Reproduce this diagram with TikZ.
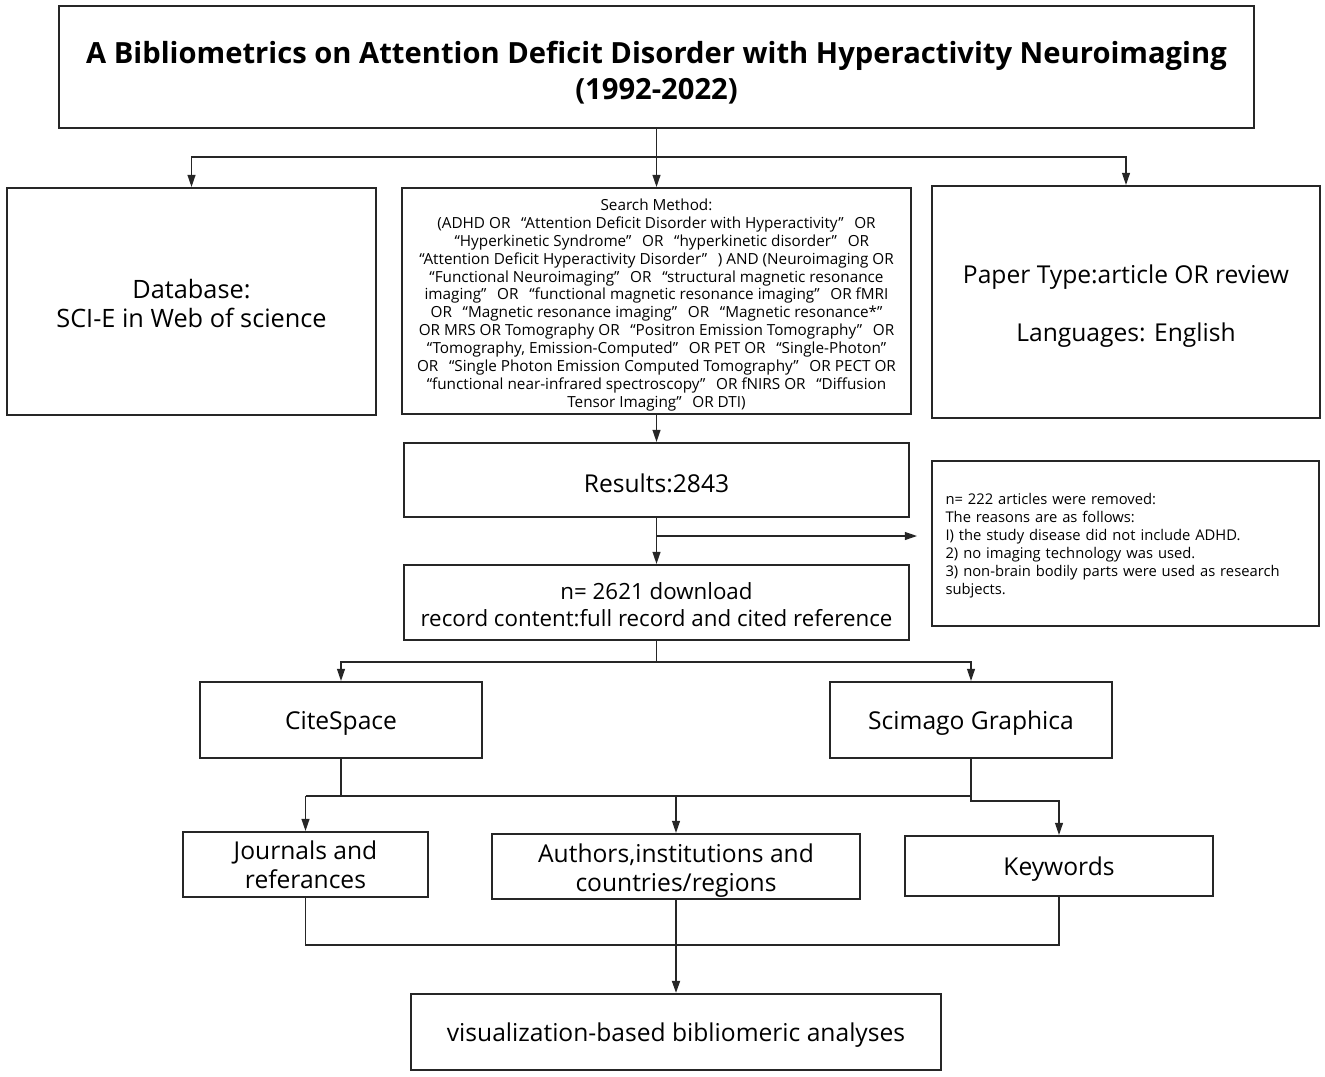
\documentclass[tikz,border=0pt]{standalone}
\usepackage{fontspec}
\setmainfont{Open Sans}
\usetikzlibrary{arrows.meta,calc}
\newcommand\quoted[1]{\hspace{0.7em}“#1”\hspace{0.7em}}
\newcommand\lift[1]{\rule{0pt}{#1em}}

\begin{document}
\begin{tikzpicture}[x=0.02cm,y=-0.02cm,
    box/.style={draw=black!85,line width=1.1pt,inner xsep=2pt,inner ysep=0pt,align=center,font=\fontsize{14}{16.6}\selectfont,
      execute at begin node={\rule{0pt}{1.05em}}},
    smallbox/.style={box,font=\fontsize{8.7}{10.2}\selectfont},
    arr/.style={draw=black!85,line width=0.9pt,-{Triangle[length=7pt,width=4.5pt]}},
    wire/.style={draw=black!85,line width=0.9pt}]
   \useasboundingbox (0,0) rectangle (1325,1076);

   % title and first level
   \node[box,minimum width=23.9cm,minimum height=2.44cm,font=\fontsize{16.6}{20.4}\selectfont\bfseries] (title) at (656.5,67)
     {\lift{1.16}A Bibliometrics on Attention Deficit Disorder with Hyperactivity Neuroimaging\\(1992-2022)};
   \node[box,minimum width=7.38cm,minimum height=4.54cm,font=\fontsize{14.4}{16.6}\selectfont] (db) at (191.5,301.5) {\lift{0.92}Database:\\SCI-E in Web of science};
   \node[smallbox,minimum width=10.18cm,minimum height=4.52cm] (search) at (656.5,301) {\lift{1.28}Search Method:\\
     (ADHD OR\quoted{Attention Deficit Disorder with Hyperactivity}OR\\
     \quoted{Hyperkinetic Syndrome}OR\quoted{hyperkinetic disorder}OR\\
     “Attention Deficit Hyperactivity Disorder”\hspace{0.7em}) AND (Neuroimaging OR\\
     “Functional Neuroimaging”\hspace{0.7em}OR\hspace{0.7em}“structural magnetic resonance\\
     imaging”\hspace{0.7em}OR\quoted{functional magnetic resonance imaging}OR fMRI\\
     OR\quoted{Magnetic resonance imaging}OR\quoted{Magnetic resonance*}\\
     OR MRS OR Tomography OR\quoted{Positron Emission Tomography}OR\\
     “Tomography, Emission-Computed”\hspace{0.7em}OR PET OR\quoted{Single-Photon}\\
     OR\quoted{Single Photon Emission Computed Tomography}OR PECT OR\\
     “functional near-infrared spectroscopy”\hspace{0.7em}OR fNIRS OR\hspace{0.7em}“Diffusion\\
     Tensor Imaging”\hspace{0.7em}OR DTI)};
   \node[box,minimum width=7.76cm,minimum height=4.64cm] (paper) at (1126,302) {\lift{1.08}Paper Type:article OR review\\[1.15em]Languages: English};

   % results and exclusion
   \node[box,minimum width=10.1cm,minimum height=1.48cm] (results) at (656.5,480) {Results:2843};
   \node[smallbox,align=left,text width=7.2cm,minimum width=7.74cm,minimum height=3.3cm,font=\fontsize{8.4}{10.2}\selectfont] (removed) at (1125.5,543.5)
     {n= 222 articles were removed:\\The reasons are as follows:\\I) the study disease did not include ADHD.\\2) no imaging technology was used.\\3) non-brain bodily parts were used as research subjects.};
   \node[box,minimum width=10.1cm,minimum height=1.5cm,font=\fontsize{12.7}{15.3}\selectfont] (ndl) at (656.5,602.5) {\lift{0.94}n= 2621 download\\record content:full record and cited reference};

   % tools
   \node[box,minimum width=5.64cm,minimum height=1.52cm] (cite) at (341,720) {CiteSpace};
   \node[box,minimum width=5.64cm,minimum height=1.52cm] (scim) at (971,720) {Scimago Graphica};

   % analyses
   \node[box,minimum width=4.9cm,minimum height=1.3cm] (jour) at (305.5,864.5) {Journals and\\referances};
   \node[box,minimum width=7.36cm,minimum height=1.3cm] (auth) at (676,866.5) {\lift{1.08}Authors,institutions and\\countries/regions};
   \node[box,minimum width=6.16cm,minimum height=1.2cm] (keyw) at (1059,866) {Keywords};
   \node[box,minimum width=10.62cm,minimum height=1.52cm] (final) at (676,1032) {visualization-based bibliomeric analyses};

   % connectors
   \coordinate (top) at (656.5,157);
   \draw[wire] (title.south) -- (top);
   \draw[arr] (top) -| (db.north);
   \draw[arr] (top) -- (search.north);
   \draw[arr] (top) -| (paper.north);

   \draw[arr] (search.south) -- (results.north);
   \draw[arr] (results.south) -- (ndl.north);
   \coordinate (rm) at (656.5,536);
   \draw[arr] (rm) -- ([xshift=-0.28cm]removed.west |- rm) coordinate (rmend);

   \coordinate (mid) at (656.5,662);
   \draw[wire] (ndl.south) -- (mid);
   \draw[arr] (mid) -| (cite.north);
   \draw[arr] (mid) -| (scim.north);

   \coordinate (low) at (341,796);
   \draw[wire] (cite.south) -- (low);
   \draw[wire] (jour.north |- low) -- (scim.south |- low);
   \draw[arr] (jour.north |- low) -- (jour.north);
   \draw[arr] (auth.north |- low) -- (auth.north);
   \draw[arr] (scim.south) -- ++(0,42) -| (keyw.north);

   \coordinate (bot) at (676,945);
   \draw[wire] (jour.south) |- (keyw.south |- bot) -- (keyw.south);
   \draw[arr,line width=1.3pt] (auth.south) -- (final.north);
\end{tikzpicture}
\end{document}
